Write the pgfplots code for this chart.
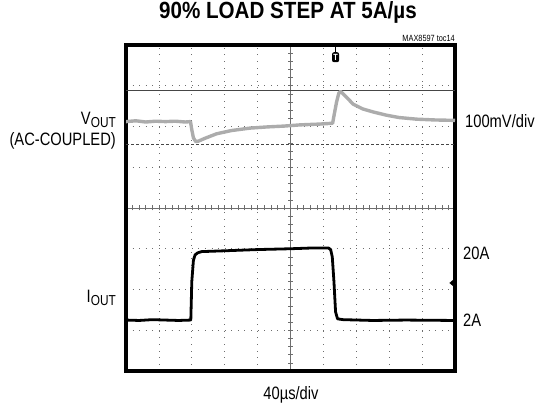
\documentclass[border=0pt]{standalone}
\usepackage{pgfplots}
\pgfplotsset{compat=1.18}
\usepackage{fontspec}
\setmainfont[FakeStretch=0.82]{Liberation Sans}
\newfontfamily\titlefont[FakeStretch=0.88]{Liberation Sans}

\definecolor{trace1}{RGB}{172,172,172}
\definecolor{gridc}{RGB}{110,110,110}
\definecolor{cursor}{RGB}{70,70,70}

\newcommand{\sub}[1]{\raisebox{-0.35ex}{\fontsize{14.5}{14.5}\selectfont #1}}

\begin{document}
\begin{tikzpicture}
\path[use as bounding box] (-126bp,-42bp) rectangle (417bp,371bp);

% centre cross with small ticks
\begin{axis}[
  scale only axis, width=329bp, height=326bp,
  xmin=-5, xmax=5, ymin=-4, ymax=4,
  axis lines=middle,
  axis line style={gridc, line width=0.5bp, -},
  xtick distance=0.2, ytick distance=0.2,
  xticklabels={}, yticklabels={},
  major tick length=5bp, tick align=center,
  tick style={gridc, line width=0.5bp},
]
\end{axis}

\begin{axis}[
  scale only axis, width=329bp, height=326bp,
  xmin=0, xmax=10, ymin=0, ymax=8,
  xtick={1,...,9}, ytick={1,...,7},
  xticklabels={}, yticklabels={},
  major tick length=0pt,
  grid=major,
  major grid style={gridc, line width=0.7bp, dash pattern=on 0.7bp off 5.88bp},
  axis line style={line width=3.2bp, black},
  clip=true,
]
% cursors
\addplot[cursor, line width=0.8bp] coordinates {(0,6.88) (10,6.88)};
\addplot[cursor, line width=0.9bp, dash pattern=on 3bp off 2bp] coordinates {(0,5.55) (10,5.55)};

% VOUT (AC-coupled)
\addplot[trace1, line width=3.4bp, line join=round] coordinates {
(0,6.12) (0.3,6.14) (0.6,6.11) (0.9,6.13) (1.2,6.12) (1.5,6.13) (1.8,6.11) (1.96,6.12)
(2.0,5.92) (2.05,5.72) (2.12,5.63) (2.2,5.64) (2.4,5.71) (2.75,5.82) (3.2,5.9)
(3.76,5.96) (4.3,5.99) (4.8,6.01) (5.3,6.04) (5.9,6.06) (6.28,6.08)
(6.33,6.3) (6.4,6.6) (6.47,6.82) (6.52,6.86) (6.6,6.8) (6.75,6.68) (6.9,6.55)
(7.2,6.43) (7.5,6.36) (7.9,6.28) (8.3,6.22) (8.83,6.18) (9.4,6.16) (10,6.15)
};

% IOUT
\addplot[black, line width=2.8bp, line join=round] coordinates {
(0,1.25) (0.4,1.24) (0.8,1.26) (1.2,1.25) (1.6,1.24) (1.97,1.25)
(2.0,2.2) (2.05,2.72) (2.1,2.85) (2.18,2.9) (2.3,2.93) (3,2.95) (4,2.98)
(5,3.0) (5.7,3.02) (6.15,3.02) (6.22,2.98) (6.27,2.8) (6.32,2.2) (6.37,1.45)
(6.43,1.28) (6.6,1.26) (7.5,1.24) (8.5,1.25) (10,1.24)
};

% trigger marker and ground arrow
\node[fill=black, text=white, rounded corners=2pt, inner sep=0pt,
      minimum width=7bp, minimum height=10bp,
      font=\fontsize{9}{9}\selectfont\bfseries] at (axis cs:6.37,7.7) {T};
\draw[black, line width=1.2bp] (axis cs:6.37,7.8) -- (axis cs:6.37,8);
\fill[black] (axis cs:9.83,2.16) -- (axis cs:9.96,2.25) -- (axis cs:9.96,2.07) -- cycle;
\end{axis}

% texts
\node[font=\titlefont\fontsize{23.5}{23.5}\selectfont\bfseries] at (162bp,359bp) {90\% LOAD STEP AT 5A/\textmu s};
\node[anchor=east, font=\fontsize{9}{9}\selectfont, inner sep=0pt] at (329bp,333bp) {MAX8597 toc14};

\node[anchor=east, font=\fontsize{18}{18}\selectfont, inner sep=0pt] at (-10bp,251bp) {V\sub{OUT}};
\node[anchor=east, font=\fontsize{18}{18}\selectfont, inner sep=0pt] at (-10bp,230bp) {(AC-COUPLED)};
\node[anchor=east, font=\fontsize{18}{18}\selectfont, inner sep=0pt] at (-10bp,73bp) {I\sub{OUT}};

\node[anchor=west, font=\fontsize{18}{18}\selectfont, inner sep=0pt] at (339bp,250bp) {100mV/div};
\node[anchor=west, font=\fontsize{18}{18}\selectfont, inner sep=0pt] at (337bp,118bp) {20A};
\node[anchor=west, font=\fontsize{18}{18}\selectfont, inner sep=0pt] at (337bp,51bp) {2A};

\node[font=\fontsize{18}{18}\selectfont, inner sep=0pt] at (165bp,-24bp) {40\textmu s/div};
\end{tikzpicture}
\end{document}
